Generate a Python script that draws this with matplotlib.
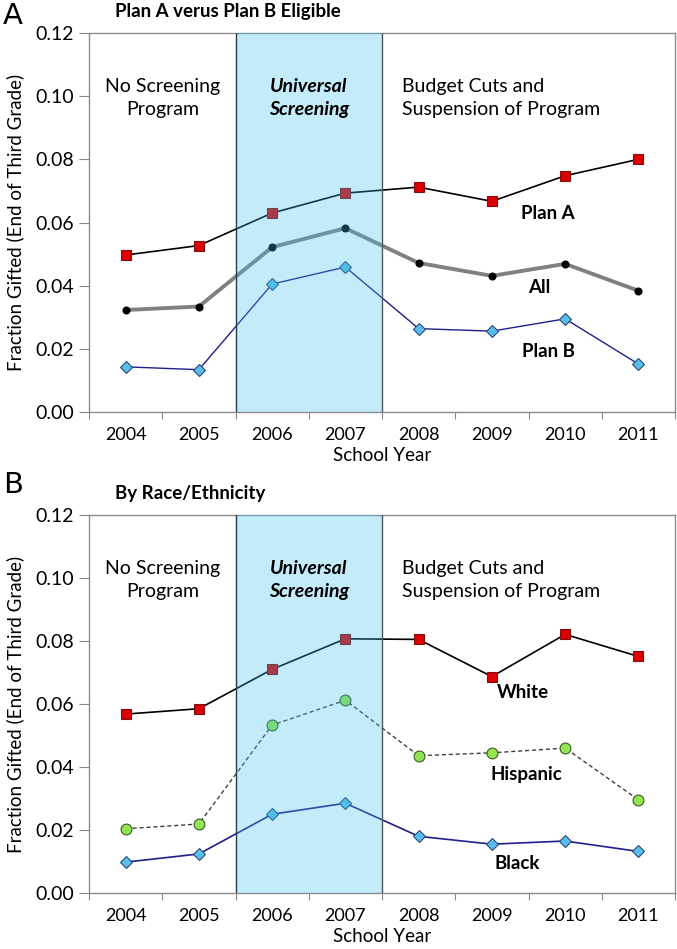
import matplotlib
matplotlib.use("Agg")
import matplotlib.pyplot as plt
from matplotlib.patches import Rectangle

plt.rcParams['font.family'] = ['Lato', 'DejaVu Sans']

years = ['2004', '2005', '2006', '2007', '2008', '2009', '2010', '2011']

plan_a = [0.0497, 0.0527, 0.0630, 0.0693, 0.0712, 0.0667, 0.0748, 0.0800]
all_students = [0.0323, 0.0334, 0.0522, 0.0582, 0.0472, 0.0431, 0.0469, 0.0384]
plan_b = [0.0143, 0.0134, 0.0405, 0.0459, 0.0264, 0.0256, 0.0295, 0.0152]

white = [0.0568, 0.0585, 0.0710, 0.0807, 0.0805, 0.0687, 0.0821, 0.0751]
hispanic = [0.0204, 0.0219, 0.0533, 0.0612, 0.0436, 0.0445, 0.0460, 0.0296]
black = [0.0098, 0.0124, 0.0250, 0.0285, 0.0180, 0.0155, 0.0165, 0.0132]

yticks = [0.00, 0.02, 0.04, 0.06, 0.08, 0.10, 0.12]

RED = '#DC0000'
BLUE_D = '#5BBDEB'
GREEN = '#92E650'
NAVY = '#1F1F8A'

fig = plt.figure(figsize=(6.77, 9.49), dpi=100)
axA = fig.add_axes([89/677, 1-412/949, (675-89)/677, (412-33)/949])
axB = fig.add_axes([89/677, 1-893/949, (675-89)/677, (893-515)/949])

x = list(range(len(years)))


def setup(ax):
    ax.set_xlim(-0.5, 7.5)
    ax.set_ylim(0, 0.12)
    ax.set_yticks(yticks)
    ax.set_yticklabels([f'{v:.2f}' for v in yticks], fontsize=14)
    ax.set_xticks([i + 0.5 for i in range(-1, 8)])
    ax.set_xticklabels([])
    ax.set_xticks(x, minor=True)
    ax.set_xticklabels(years, minor=True, fontsize=13)
    ax.tick_params(axis='x', which='minor', length=0, pad=11)
    ax.tick_params(axis='x', which='major', length=5, color='#888888', direction='out')
    ax.tick_params(axis='y', length=7, color='#888888', direction='out', pad=4)
    for s in ax.spines.values():
        s.set_color('#8C8C8C')
        s.set_linewidth(1.0)
    ax.set_xlabel('School Year', fontsize=13.5, labelpad=3)
    ax.set_ylabel('Fraction Gifted (End of Third Grade)', fontsize=13.5, labelpad=8)
    # shaded band (overlay, semi-transparent like original)
    ax.add_patch(Rectangle((1.5, 0), 2.0, 0.12, facecolor=(62/255, 192/255, 238/255),
                           alpha=0.3, edgecolor='none', zorder=10))
    ax.axvline(1.5, color='#2A3A4A', lw=1.0, zorder=11)
    ax.axvline(3.5, color='#505860', lw=1.0, zorder=11)
    ax.text(0.5, 0.0994, 'No Screening\nProgram', ha='center', va='center',
            fontsize=14, linespacing=1.45, zorder=12)
    ax.text(2.5, 0.0994, 'Universal\nScreening', ha='center', va='center',
            fontsize=14, fontweight='bold', style='italic', linespacing=1.45, zorder=12)
    ax.text(3.77, 0.0994, 'Budget Cuts and\nSuspension of Program', ha='left', va='center',
            fontsize=14, linespacing=1.45, zorder=12)


setup(axA)
setup(axB)

# Panel A
axA.plot(x, plan_a, color='black', lw=1.2, marker='s', ms=7.5, mfc=RED,
         mec='#7A1010', mew=0.8, zorder=5)
axA.plot(x, all_students, color='#808080', lw=2.8, marker='o', ms=4.8, mfc='black',
         mec='black', zorder=5)
axA.plot(x, plan_b, color=NAVY, lw=1.0, marker='D', ms=6, mfc=BLUE_D,
         mec='#2A4A7A', mew=0.8, zorder=5)
axA.text(5.77, 0.0630, 'Plan A', ha='center', va='center', fontsize=13.5, fontweight='bold', zorder=12)
axA.text(5.65, 0.0393, 'All', ha='center', va='center', fontsize=13.5, fontweight='bold', zorder=12)
axA.text(5.77, 0.0190, 'Plan B', ha='center', va='center', fontsize=13.5, fontweight='bold', zorder=12)

# Panel B
axB.plot(x, white, color='black', lw=1.2, marker='s', ms=7.5, mfc=RED,
         mec='#7A1010', mew=0.8, zorder=5)
axB.plot(x, hispanic, color='#404040', lw=1.0, ls=(0, (3, 2)), marker='o', ms=7.8,
         mfc=GREEN, mec='#3A5A2A', mew=0.8, zorder=5)
axB.plot(x, black, color=NAVY, lw=1.2, marker='D', ms=6, mfc=BLUE_D,
         mec='#2A4A7A', mew=0.8, zorder=5)
axB.text(5.42, 0.0635, 'White', ha='center', va='center', fontsize=13.5, fontweight='bold', zorder=12)
axB.text(5.47, 0.0375, 'Hispanic', ha='center', va='center', fontsize=13.5, fontweight='bold', zorder=12)
axB.text(5.35, 0.0095, 'Black', ha='center', va='center', fontsize=13.5, fontweight='bold', zorder=12)

# Panel letters and titles
fig.text(13/677, 1-16/949, 'A', ha='center', va='center', fontsize=21, family='DejaVu Sans')
fig.text(115/677, 1-12/949, 'Plan A verus Plan B Eligible', ha='left', va='center',
         fontsize=13.5, fontweight='bold')
fig.text(13/677, 1-485/949, 'B', ha='center', va='center', fontsize=21, family='DejaVu Sans')
fig.text(115/677, 1-494/949, 'By Race/Ethnicity', ha='left', va='center',
         fontsize=13.5, fontweight='bold')

fig.savefig('out.png', dpi=100)
